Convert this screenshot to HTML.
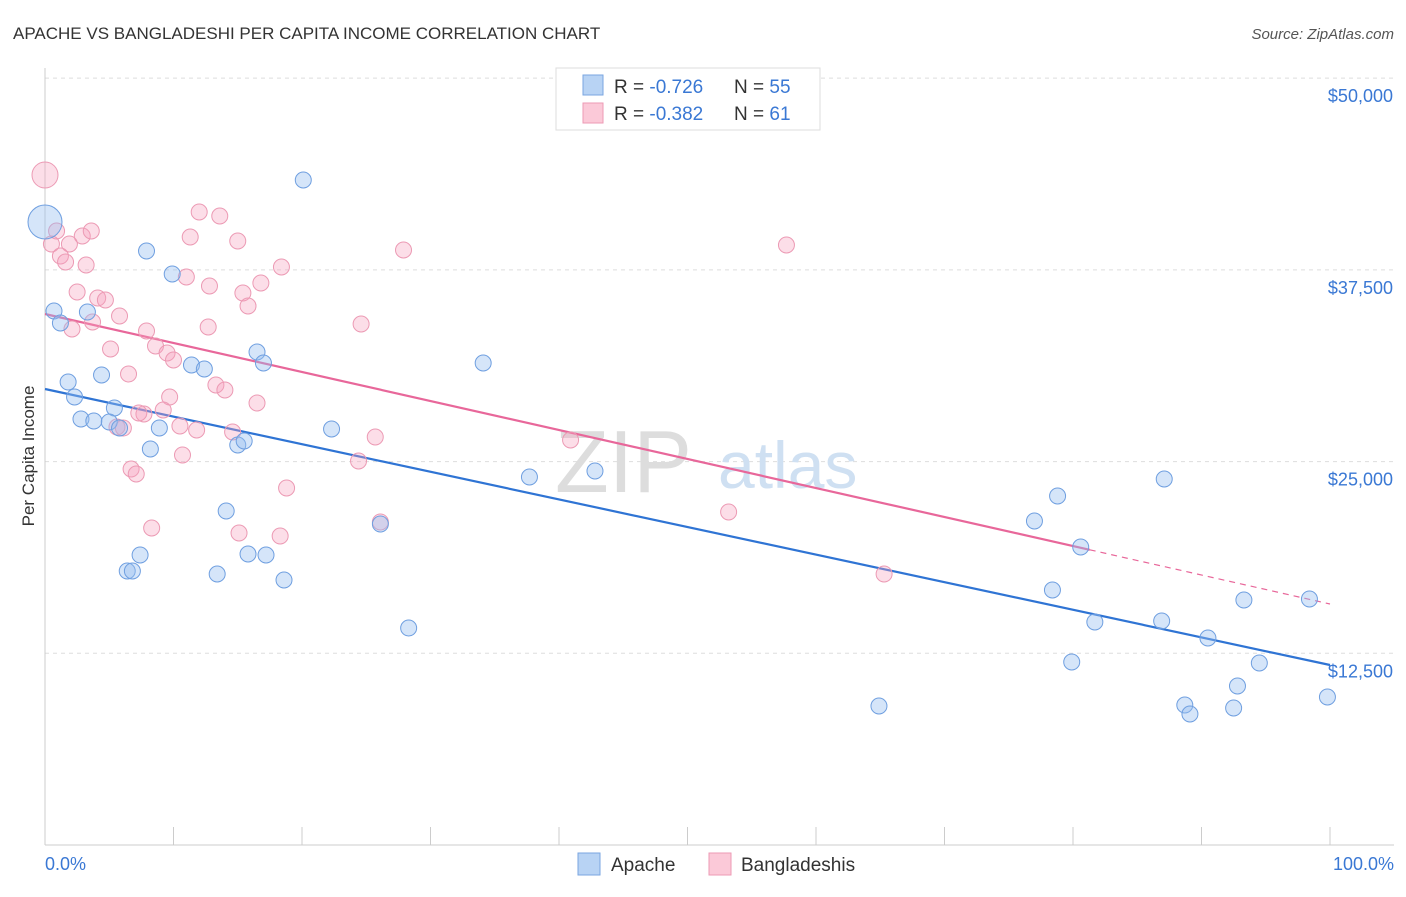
<!DOCTYPE html>
<html><head><meta charset="utf-8"><style>
body{margin:0;background:#fff;font-family:"Liberation Sans",sans-serif}
svg text{font-family:"Liberation Sans",sans-serif}
</style></head><body>
<svg width="1406" height="892" xmlns="http://www.w3.org/2000/svg">
<text x="13" y="39" font-size="17" fill="#333">APACHE VS BANGLADESHI PER CAPITA INCOME CORRELATION CHART</text>
<text x="1394" y="39" font-size="15" fill="#555" text-anchor="end" font-style="italic">Source: ZipAtlas.com</text>
<g id="grid"></g>
<g><text x="555" y="492" font-size="88" fill="#ddd" font-family="Liberation Serif">ZIP</text><text x="718" y="488" font-size="66" fill="#cfe0f2">atlas</text></g>
<line x1="45" y1="68" x2="45" y2="845" stroke="#ccc"/>
<line x1="45" y1="845" x2="1394" y2="845" stroke="#ccc"/>
<g id="ticks"></g>
<text x="34" y="456" font-size="17" fill="#333" text-anchor="middle" transform="rotate(-90 34 456)">Per Capita Income</text>
<text x="45" y="870" font-size="18" fill="#3a78d4">0.0%</text>
<text x="1394" y="870" font-size="18" fill="#3a78d4" text-anchor="end">100.0%</text>
<g id="lines"></g>
<g id="pts"></g>
<g>
<rect x="556" y="68" width="264" height="62" fill="#fff" stroke="#ddd"/>
<rect x="583" y="75" width="20" height="20" fill="#b8d3f4" stroke="#7aa6e0"/>
<rect x="583" y="103" width="20" height="20" fill="#fbc9d8" stroke="#ec9ab4"/>
<text x="614" y="93" font-size="19" fill="#333">R = <tspan fill="#3a78d4">-0.726</tspan></text>
<text x="734" y="93" font-size="19" fill="#333">N = <tspan fill="#3a78d4">55</tspan></text>
<text x="614" y="120" font-size="19" fill="#333">R = <tspan fill="#3a78d4">-0.382</tspan></text>
<text x="734" y="120" font-size="19" fill="#333">N = <tspan fill="#3a78d4"> 61</tspan></text>
</g>
<g>
<rect x="578" y="853" width="22" height="22" fill="#b8d3f4" stroke="#7aa6e0"/>
<text x="611" y="871" font-size="19" fill="#333">Apache</text>
<rect x="709" y="853" width="22" height="22" fill="#fbc9d8" stroke="#ec9ab4"/>
<text x="741" y="871" font-size="19" fill="#333">Bangladeshis</text>
</g>
</svg>
<script>
const yTicks=[12500,25000,37500,50000];
const yTickLabels=["$12,500","$25,000","$37,500","$50,000"];
const xTicks=[0,10,20,30,40,50,60,70,80,90,100];
const apacheX=[0,20.1,7.9,9.9,0.7,3.3,1.2,4.4,1.8,11.4,12.4,16.5,17.0,34.1,2.3,5.4,2.8,3.8,5.0,5.8,8.9,22.3,8.2,15.0,15.5,37.7,42.8,87.1,78.8,14.1,26.1,77.0,80.6,7.4,15.8,17.2,6.4,6.8,13.4,18.6,78.4,93.3,98.4,81.7,86.9,28.3,90.5,79.9,94.5,92.8,64.9,88.7,89.1,92.5,99.8];
const apacheY=[40620,43358,38729,37229,34817,34752,34034,30644,30188,31296,31035,32144,31426,31426,29210,28492,27775,27645,27580,27188,27188,27123,25819,26080,26341,23994,24385,23863,22755,21777,20929,21125,19430,18908,18973,18908,17865,17865,17669,17278,16626,15974,16039,14540,14605,14148,13496,11932,11866,10367,9063,9128,8541,8932,9650];
const bangX=[0,0.9,0.5,2.9,3.6,1.9,1.2,1.6,3.2,12.0,13.6,11.3,15.0,27.9,57.7,18.4,11.0,16.8,12.8,15.4,2.5,4.1,4.7,15.8,5.8,3.7,2.1,12.7,24.6,7.9,8.6,5.1,9.5,10.0,6.5,13.3,14.0,9.7,16.5,9.2,7.7,7.3,10.5,11.8,5.6,6.1,14.6,25.7,40.9,10.7,24.4,6.7,7.1,18.8,53.2,8.3,15.1,26.1,18.3,65.3];
const bangY=[43684,40033,39185,39707,40033,39185,38403,38012,37816,41272,41011,39642,39381,38794,39120,37686,37034,36642,36447,35990,36056,35664,35534,35143,34491,34100,33643,33774,33969,33513,32535,32339,32078,31622,30709,29992,29666,29210,28818,28362,28101,28166,27319,27058,27254,27188,26928,26602,26406,25428,25037,24515,24189,23276,21712,20668,20342,21060,20147,17669];
const apacheLine=[29731,11736];
const bangLine=[34621,15713];
const bangSolidEnd=81.3;
const X=v=>45+v*12.85, Y=v=>845-v/65.2;
const NS="http://www.w3.org/2000/svg";
function mk(t,a,p){const e=document.createElementNS(NS,t);for(const k in a)e.setAttribute(k,a[k]);p.appendChild(e);return e;}
const grid=document.getElementById('grid');
yTicks.forEach((v,i)=>{
 const l=mk('line',{x1:45,x2:1394,y1:Y(v),y2:Y(v),stroke:'#ddd','stroke-dasharray':'4,4'},grid);
 
 
 const t=mk('text',{x:1393,y:Y(v)+24,'font-size':18,fill:'#3a78d4','text-anchor':'end'},grid);
 t.textContent=yTickLabels[i];
 
 
});
const tk=document.getElementById('ticks');
xTicks.forEach(v=>{
 const l=mk('line',{x1:X(v),x2:X(v),y1:827,y2:845,stroke:'#ccc'},tk);
 
 
});
const ln=document.getElementById('lines');
let a=mk('line',{x1:X(0),y1:Y(apacheLine[0]),x2:X(100),y2:Y(apacheLine[1]),stroke:'#2f74d4','stroke-width':2.2},ln);


const by=x=>bangLine[0]+(bangLine[1]-bangLine[0])*x/100;
let b=mk('line',{x1:X(0),y1:Y(by(0)),x2:X(bangSolidEnd),y2:Y(by(bangSolidEnd)),stroke:'#e8679a','stroke-width':2.2},ln);


let b2=mk('line',{x1:X(bangSolidEnd),y1:Y(by(bangSolidEnd)),x2:X(100),y2:Y(by(100)),stroke:'#e8679a','stroke-width':1.2,'stroke-dasharray':'6,5'},ln);


const pts=document.getElementById('pts');
bangX.forEach((x,i)=>{
 const c=mk('circle',{cx:X(x),cy:Y(bangY[i]),r:i==0?13:8,fill:'rgba(245,160,190,0.35)',stroke:'#ec9ab4','stroke-width':1},pts);
 
 
});
apacheX.forEach((x,i)=>{
 const c=mk('circle',{cx:X(x),cy:Y(apacheY[i]),r:i==0?17:8,fill:'rgba(150,190,240,0.4)',stroke:'#6f9fe0','stroke-width':1},pts);
 
 
});
</script>
</body></html>
